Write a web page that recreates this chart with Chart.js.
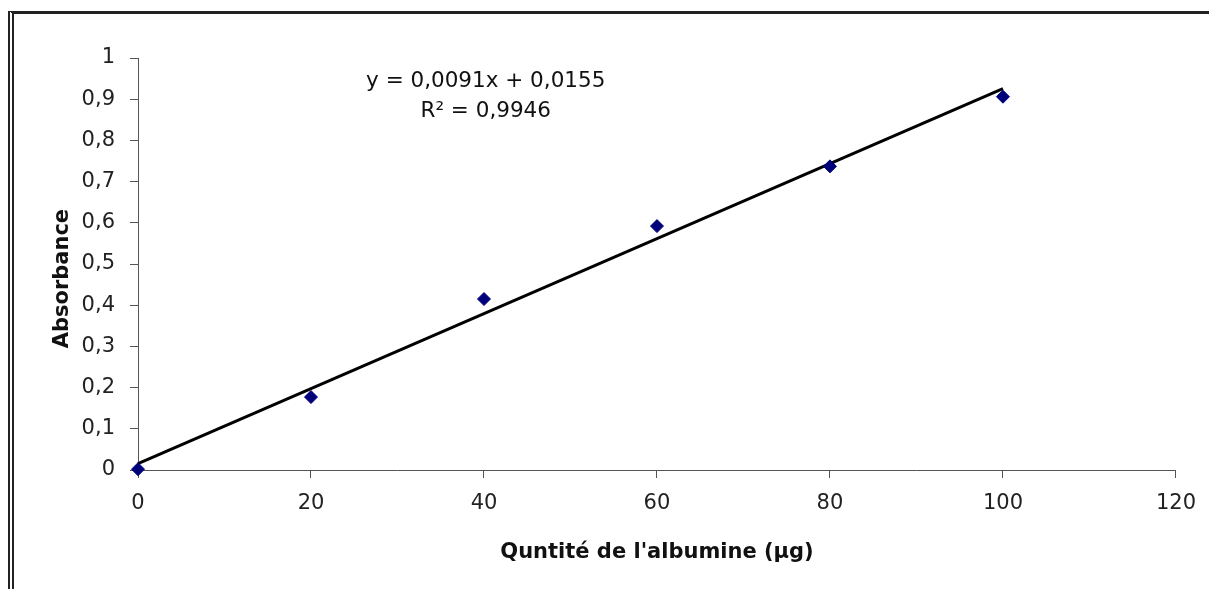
<!DOCTYPE html>
<html>
<head>
<meta charset="utf-8">
<script src="https://cdn.jsdelivr.net/npm/chart.js@4"></script>
<style>
  html, body { margin: 0; padding: 0; background: #fff; }
  #wrap { position: relative; width: 1209px; height: 589px; }
  #frame {
    position: absolute; left: 8px; top: 11px; right: 0; bottom: 0;
    border-top: 3px solid #222; border-left: 6px double #222;
  }
  canvas { position: absolute; left: 0; top: 0; }
</style>
</head>
<body>
<div id="wrap">
  <div id="frame"></div>
  <canvas id="chart" width="1209" height="589"></canvas>
</div>
<script>
// albumine (µg) vs absorbance
const quantities = [0, 20, 40, 60, 80, 100];
const absorbance = [0.002, 0.177, 0.415, 0.592, 0.737, 0.906];

// Excel linear trendline, as printed on the chart
const trendX = [0, 100];
const trendY = [0.0155, 0.9255];
const equationLines = ['y = 0,0091x + 0,0155', 'R² = 0,9946'];
const equationAt = { x: 40.2, y: 0.942 };

const xTicks = [0, 20, 40, 60, 80, 100, 120];
const yTicks = [0, 0.1, 0.2, 0.3, 0.4, 0.5, 0.6, 0.7, 0.8, 0.9, 1];

const FONT = '"DejaVu Sans", sans-serif';
const frNum = v => String(Math.round(v * 10) / 10).replace('.', ',');

const equationLabel = {
    id: 'equationLabel',
    afterDatasetsDraw(chart) {
        const { ctx, scales } = chart;
        const px = scales.x.getPixelForValue(equationAt.x);
        const py = scales.y.getPixelForValue(equationAt.y);
        ctx.save();
        ctx.font = '21.5px ' + FONT;
        ctx.fillStyle = '#111';
        ctx.textAlign = 'center';
        ctx.textBaseline = 'middle';
        equationLines.forEach((t, i) => ctx.fillText(t, px, py + i * 30));
        ctx.restore();
    }
};

new Chart(document.getElementById('chart'), {
    type: 'scatter',
    data: {
        datasets: [{
            label: 'Absorbance',
            data: quantities.map((q, i) => ({ x: q, y: absorbance[i] })),
            backgroundColor: '#00007a',
            borderColor: '#00007a',
            pointStyle: 'rectRot',
            pointRadius: 6.5,
            clip: false,
            order: 1
        }, {
            type: 'line',
            label: 'Linéaire',
            data: trendX.map((q, i) => ({ x: q, y: trendY[i] })),
            borderColor: '#000',
            borderWidth: 3,
            pointRadius: 0,
            fill: false,
            clip: false,
            order: 2
        }]
    },
    options: {
        responsive: false,
        animation: false,
        layout: { padding: { top: 58, right: 33, bottom: 0, left: 0 } },
        plugins: {
            legend: { display: false },
            tooltip: { enabled: false }
        },
        scales: {
            x: {
                type: 'linear',
                min: 0, max: 120,
                afterBuildTicks: s => { s.ticks = xTicks.map(v => ({ value: v })); },
                afterFit: s => { s.height = 119; },
                grid: { drawOnChartArea: false, tickLength: 8, color: '#555' },
                border: { color: '#555' },
                ticks: { color: '#222', padding: 13, font: { family: FONT, size: 21 } },
                title: {
                    display: true,
                    text: "Quntité de l'albumine (µg)",
                    color: '#111',
                    padding: { top: 0, bottom: 24 },
                    font: { family: FONT, size: 21, weight: 'bold' }
                }
            },
            y: {
                min: 0, max: 1,
                afterBuildTicks: s => { s.ticks = yTicks.map(v => ({ value: v })); },
                afterFit: s => { s.width = 138; },
                grid: { drawOnChartArea: false, tickLength: 8, color: '#555' },
                border: { color: '#555' },
                ticks: { color: '#222', padding: 15, font: { family: FONT, size: 21 }, callback: v => frNum(v) },
                title: {
                    display: true,
                    text: 'Absorbance    ',
                    color: '#111',
                    padding: { top: 50, bottom: 0 },
                    font: { family: FONT, size: 21, weight: 'bold' }
                }
            }
        }
    },
    plugins: [equationLabel]
});
</script>
</body>
</html>
